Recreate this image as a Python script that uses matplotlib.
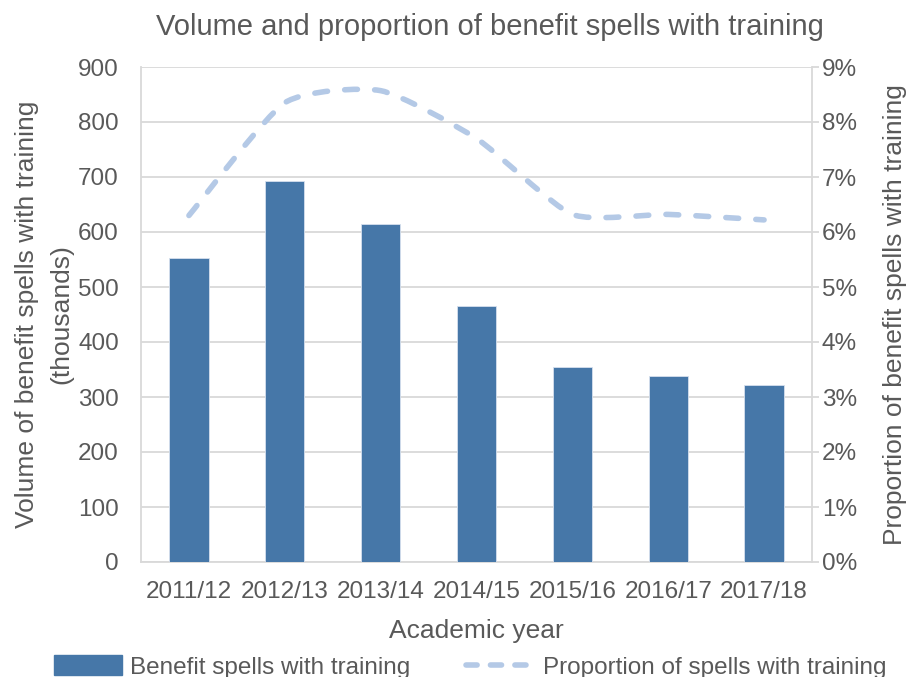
import numpy as np
import matplotlib.pyplot as plt
from matplotlib.path import Path
from matplotlib.patches import PathPatch, Patch
from matplotlib.lines import Line2D
from matplotlib.ticker import FuncFormatter

plt.rcParams['font.family'] = ['Liberation Sans', 'DejaVu Sans']

years = ['2011/12', '2012/13', '2013/14', '2014/15', '2015/16', '2016/17', '2017/18']
volume = [552, 693, 615, 465, 354, 339, 321]          # thousands
proportion = [6.3, 8.35, 8.57, 7.7, 6.32, 6.32, 6.22]  # percent

grey = '#595959'
bar_col = '#4677A8'
line_col = '#B4C9E6'
grid_col = '#D9D9D9'
fs = 17.5
lab_fs = 19

fig = plt.figure(figsize=(9.12, 6.77), dpi=100)
ax = fig.add_axes([141/912, 1-562/677, (812-141)/912, (562-67)/677])
ax2 = ax.twinx()

x = np.arange(len(years))
ax.bar(x, volume, width=0.41, color=bar_col, edgecolor='#D6E0EE', linewidth=0.6, zorder=3)
ax.set_xlim(-0.5, len(years) - 0.5)
ax.set_ylim(0, 900)
ax.set_yticks(range(0, 901, 100))
ax.grid(axis='y', color=grid_col, linewidth=1.3, zorder=0)
ax.set_axisbelow(True)

# smoothed line (bezier through the points, flatter than plain Catmull-Rom)
pts = np.column_stack([x, proportion]).astype(float)
k = 1 / 10
verts = [tuple(pts[0])]
codes = [Path.MOVETO]
for i in range(len(pts) - 1):
    p0 = pts[i - 1] if i > 0 else pts[i]
    p1, p2 = pts[i], pts[i + 1]
    p3 = pts[i + 2] if i + 2 < len(pts) else pts[i + 1]
    c1 = p1 + (p2 - p0) * k
    c2 = p2 - (p3 - p1) * k
    verts += [tuple(c1), tuple(c2), tuple(p2)]
    codes += [Path.CURVE4] * 3
ax2.add_patch(PathPatch(Path(verts, codes), fill=False, edgecolor=line_col,
                        linewidth=4.0, linestyle=(0, (2.3, 3.1)), capstyle='round',
                        joinstyle='round', zorder=4))
ax2.set_ylim(0, 9)
ax2.set_yticks(range(0, 10))
ax2.yaxis.set_major_formatter(FuncFormatter(lambda v, p: '%d%%' % v))

for a in (ax, ax2):
    for s in a.spines.values():
        s.set_visible(False)
for s in (ax.spines['left'], ax.spines['bottom'], ax2.spines['right']):
    s.set_visible(True)
    s.set_color(grid_col)
    s.set_linewidth(1.3)

ax.set_xticks(x)
ax.set_xticklabels(years)
ax.tick_params(axis='x', length=0, labelsize=fs, labelcolor=grey, pad=14)
ax.tick_params(axis='y', length=0, labelsize=fs, labelcolor=grey, pad=16)
ax2.tick_params(axis='y', length=5, color=grid_col, width=1.3, labelsize=fs,
                labelcolor=grey, pad=2)

ax.set_xlabel('Academic year', fontsize=lab_fs, color=grey, labelpad=11)
ax.set_ylabel('Volume of benefit spells with training\n(thousands)', fontsize=lab_fs,
              color=grey, labelpad=3.5, linespacing=1.55)
ax2.set_ylabel('Proportion of benefit spells with training', fontsize=lab_fs,
               color=grey, labelpad=19)
fig.text(490/912, 1-27/677, 'Volume and proportion of benefit spells with training',
         ha='center', va='center', fontsize=21, color=grey)

handles = [Patch(facecolor=bar_col, edgecolor=bar_col),
           Line2D([0], [0], color=line_col, linewidth=4.0, linestyle=(0, (2.0, 2.4)),
                  dash_capstyle='round')]
fig.legend(handles, ['Benefit spells with training', 'Proportion of spells with training'],
           loc='center', bbox_to_anchor=(470/912, 1-667/677), ncol=2, frameon=False,
           fontsize=fs, labelcolor=grey, handlelength=2.8, handleheight=0.9,
           columnspacing=2.3, handletextpad=0.35, borderpad=0)

fig.savefig('out.png', dpi=100)
